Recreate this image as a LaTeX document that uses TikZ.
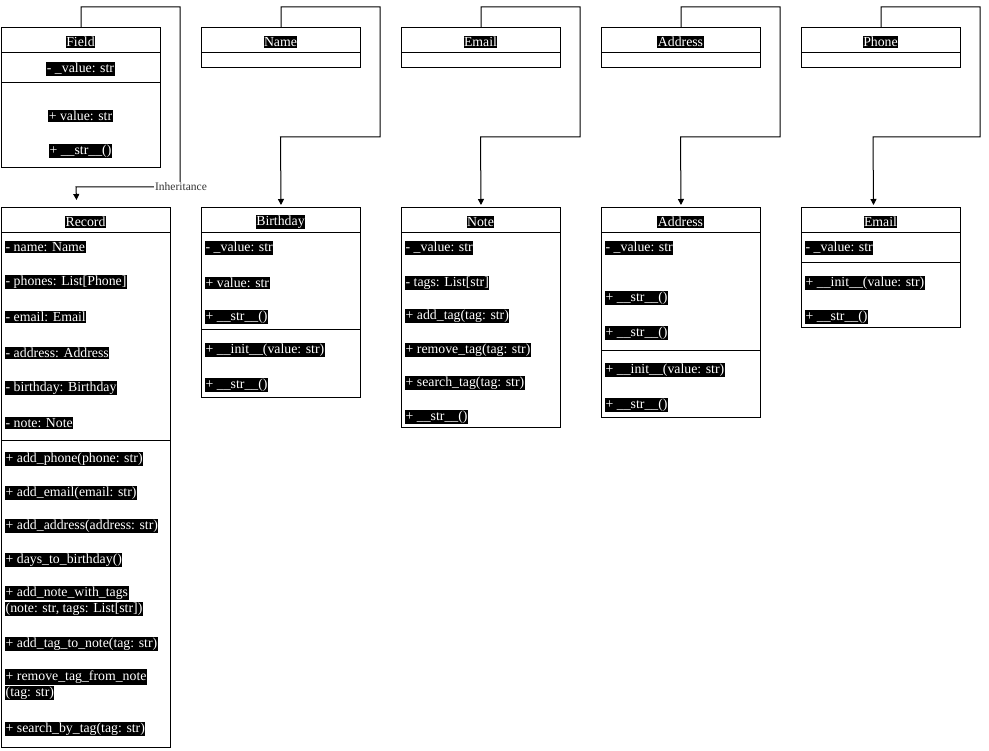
\documentclass[tikz,border=0pt]{standalone}
\usepackage{fontspec}
\setmainfont{Liberation Serif}
\usetikzlibrary{arrows.meta}
\begin{document}
\begin{tikzpicture}[x=1pt,y=-1pt,
  box/.style={draw=black,line width=1pt,fill=white,anchor=north west,inner sep=0pt},
  hl/.style={fill=black,text=white,inner xsep=0.5pt,inner ysep=1.2pt,font=\fontsize{13.8}{15}\selectfont},
  hll/.style={hl,anchor=west},
  sep/.style={line width=1pt},
  arr/.style={line width=1pt,-{Triangle[length=6pt,width=6pt]}},
  lbl/.style={fill=white,text=black!80,inner sep=1pt,font=\fontsize{11.5}{12}\selectfont}]
\useasboundingbox[fill=white] (0,0) rectangle (989,751);

% ---------- top row: base classes ----------
\node[box,minimum width=159pt,minimum height=140pt] (field) at (1,27) {};
\draw[sep] (1,53) -- (160,53);
\draw[sep] (1,83) -- (160,83);
\node[hl] (fieldT) at (80.5,42) {Field};
\node[hl] (field1) at (80.5,69) {- \_value: str};
\node[hl] (field2) at (80.5,116) {+ value: str};
\node[hl] (field3) at (80.5,151) {+ \_\_str\_\_()};

\foreach \nm/\x/\t in {name/201/Name, email/401/Email, address/601/Address, phone/801/Phone}{
  \node[box,minimum width=159pt,minimum height=40pt] (\nm) at (\x,27) {};
  \draw[sep] (\x,53) -- ++(159,0);
  \node[hl] (\nm T) at (\x+79.5,42) {\t};
}

% ---------- Record ----------
\node[box,minimum width=169pt,minimum height=540pt] (record) at (1,207) {};
\draw[sep] (1,233) -- (170,233);
\draw[sep] (1,441) -- (170,441);
\node[hl] (recordT) at (85.5,222) {Record};
\node[hll] (r1) at (5,247) {- name: Name};
\node[hll] (r2) at (5,282) {- phones: List[Phone]};
\node[hll] (r3) at (5,317) {- email: Email};
\node[hll] (r4) at (5,353) {- address: Address};
\node[hll] (r5) at (5,388) {- birthday: Birthday};
\node[hll] (r6) at (5,423) {- note: Note};
\node[hll] (r7) at (5,459) {+ add\_phone(phone: str)};
\node[hll] (r8) at (5,493) {+ add\_email(email: str)};
\node[hll] (r9) at (5,526) {+ add\_address(address: str)};
\node[hll] (r10) at (5,560) {+ days\_to\_birthday()};
\node[hll] (r11a) at (5,593) {+ add\_note\_with\_tags};
\node[hll] (r11b) at (5,609) {(note: str, tags: List[str])};
\node[hll] (r12) at (5,644) {+ add\_tag\_to\_note(tag: str)};
\node[hll] (r13a) at (5,677) {+ remove\_tag\_from\_note};
\node[hll] (r13b) at (5,693) {(tag: str)};
\node[hll] (r14) at (5,729) {+ search\_by\_tag(tag: str)};

% ---------- Birthday ----------
\node[box,minimum width=159pt,minimum height=190pt] (birthday) at (201,207) {};
\draw[sep] (201,233) -- (360,233);
\draw[sep] (201,330) -- (360,330);
\node[hl] (birthdayT) at (280.5,222) {Birthday};
\node[hll] (b1) at (205,248) {- \_value: str};
\node[hll] (b2) at (205,283) {+ value: str};
\node[hll] (b3) at (205,317) {+ \_\_str\_\_()};
\node[hll] (b4) at (205,350) {+ \_\_init\_\_(value: str)};
\node[hll] (b5) at (205,385) {+ \_\_str\_\_()};

% ---------- Note ----------
\node[box,minimum width=159pt,minimum height=220pt] (note) at (401,207) {};
\draw[sep] (401,233) -- (560,233);
\node[hl] (noteT) at (480.5,222) {Note};
\node[hll] (n1) at (405,248) {- \_value: str};
\node[hll] (n2) at (405,283) {- tags: List[str]};
\node[hll] (n3) at (405,316) {+ add\_tag(tag: str)};
\node[hll] (n4) at (405,350) {+ remove\_tag(tag: str)};
\node[hll] (n5) at (405,383) {+ search\_tag(tag: str)};
\node[hll] (n6) at (405,417) {+ \_\_str\_\_()};

% ---------- Address (derived) ----------
\node[box,minimum width=159pt,minimum height=210pt] (address2) at (601,207) {};
\draw[sep] (601,233) -- (760,233);
\draw[sep] (601,351) -- (760,351);
\node[hl] (address2T) at (680.5,222) {Address};
\node[hll] (a1) at (605,248) {- \_value: str};
\node[hll] (a2) at (605,298) {+ \_\_str\_\_()};
\node[hll] (a3) at (605,333) {+ \_\_str\_\_()};
\node[hll] (a4) at (605,370) {+ \_\_init\_\_(value: str)};
\node[hll] (a5) at (605,405) {+ \_\_str\_\_()};

% ---------- Email (derived) ----------
\node[box,minimum width=159pt,minimum height=120pt] (email2) at (801,207) {};
\draw[sep] (801,233) -- (960,233);
\draw[sep] (801,263) -- (960,263);
\node[hl] (email2T) at (880.5,222) {Email};
\node[hll] (e1) at (805,248) {- \_value: str};
\node[hll] (e2) at (805,283) {+ \_\_init\_\_(value: str)};
\node[hll] (e3) at (805,317) {+ \_\_str\_\_()};

% ---------- connectors ----------
\coordinate (recIn) at ([xshift=-9.5pt,yshift=7pt]record.north);
\draw[arr] (field.north) |- (180,7) |- (76,187) -- (recIn);
\node[lbl] (inhLbl) at (181,187) {Inheritance};
\draw[arr] (name.north) |- (380,7) |- (280.5,137) -- ([yshift=2pt]birthday.north);
\draw[arr] (email.north) |- (580,7) |- (480.5,137) -- ([yshift=2pt]note.north);
\draw[arr] (address.north) |- (780,7) |- (680.5,137) -- ([yshift=2pt]address2.north);
\coordinate (emIn) at ([xshift=-7.5pt,yshift=2pt]email2.north);
\draw[arr] (phone.north) |- (980,7) |- (873,137) -- (emIn);
\end{tikzpicture}
\end{document}
